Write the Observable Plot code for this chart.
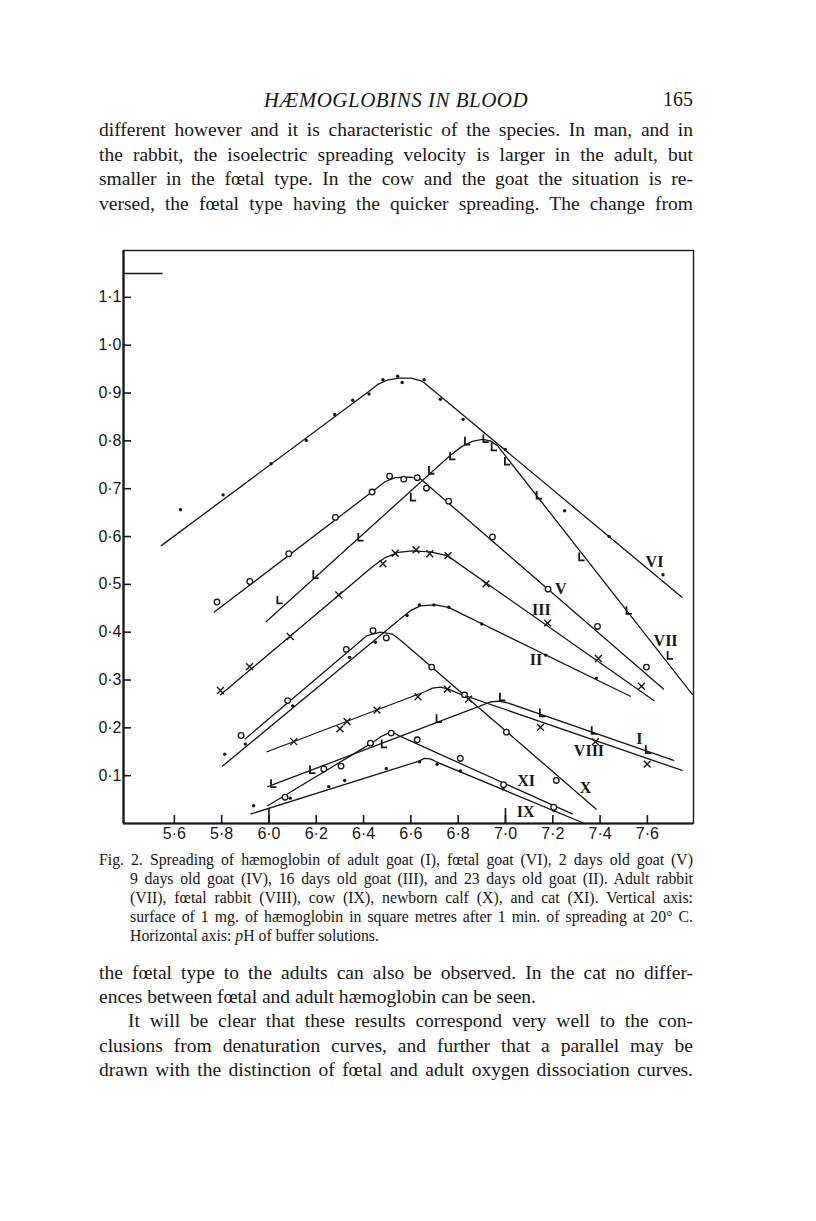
<!DOCTYPE html>
<html><head><meta charset="utf-8">
<script src="https://cdn.jsdelivr.net/npm/d3@7"></script>
<script src="https://cdn.jsdelivr.net/npm/@observablehq/plot@0.6"></script>
<style>
html,body{margin:0;padding:0;background:#fff;}
body{width:816px;height:1221px;position:relative;overflow:hidden;font-family:"Liberation Serif","Times New Roman",serif;color:#161616;}
.ln{position:absolute;white-space:normal;}
.j{text-align:justify;text-align-last:justify;}
.b{font-size:19.5px;line-height:24px;height:24px;left:99px;width:594px;}
.c{font-size:15.8px;line-height:19px;height:19px;left:99px;width:594px;}
.ci{left:130px;width:563px;}
#chart{position:absolute;left:0;top:240px;}
</style></head>
<body>
<div class="ln" style="top:88px;left:0;width:792px;text-align:center;font-size:21px;font-style:italic;letter-spacing:0.5px;">HÆMOGLOBINS IN BLOOD</div>
<div class="ln" style="top:88px;left:600px;width:93px;text-align:right;font-size:20px;">165</div>

<div class="ln b j" style="top:118px;">different however and it is characteristic of the species. In man, and in</div>
<div class="ln b j" style="top:143px;">the rabbit, the isoelectric spreading velocity is larger in the adult, but</div>
<div class="ln b j" style="top:167px;">smaller in the fœtal type. In the cow and the goat the situation is re-</div>
<div class="ln b j" style="top:192px;">versed, the fœtal type having the quicker spreading. The change from</div>

<div id="chart"></div>

<div class="ln c j" style="top:850px;">Fig. 2. Spreading of hæmoglobin of adult goat (I), fœtal goat (VI), 2 days old goat (V)</div>
<div class="ln c ci j" style="top:869px;">9 days old goat (IV), 16 days old goat (III), and 23 days old goat (II). Adult rabbit</div>
<div class="ln c ci j" style="top:888px;">(VII), fœtal rabbit (VIII), cow (IX), newborn calf (X), and cat (XI). Vertical axis:</div>
<div class="ln c ci j" style="top:907px;">surface of 1 mg. of hæmoglobin in square metres after 1 min. of spreading at 20° C.</div>
<div class="ln c ci" style="top:926px;">Horizontal axis: <i>p</i>H of buffer solutions.</div>

<div class="ln b j" style="top:961px;">the fœtal type to the adults can also be observed. In the cat no differ-</div>
<div class="ln b" style="top:985px;">ences between fœtal and adult hæmoglobin can be seen.</div>
<div class="ln b j" style="top:1009px;left:128px;width:565px;">It will be clear that these results correspond very well to the con-</div>
<div class="ln b j" style="top:1034px;">clusions from denaturation curves, and further that a parallel may be</div>
<div class="ln b j" style="top:1058px;">drawn with the distinction of fœtal and adult oxygen dissociation curves.</div>

<script>
// ---- axes ----
const xDomain = [5.385, 7.795];
const yDomain = [0, 1.198];
const xTicks = [5.6, 5.8, 6.0, 6.2, 6.4, 6.6, 6.8, 7.0, 7.2, 7.4, 7.6];
const xTickLabels = ["5·6","5·8","6·0","6·2","6·4","6·6","6·8","7·0","7·2","7·4","7·6"];
const xLongTicks = [6.0, 7.0];
const yTicks = [0.1, 0.2, 0.3, 0.4, 0.5, 0.6, 0.7, 0.8, 0.9, 1.0, 1.1];
const yTickLabels = ["0·1","0·2","0·3","0·4","0·5","0·6","0·7","0·8","0·9","1·0","1·1"];
const stub = [{y: 1.15, x1: 5.385, x2: 5.553}];

// ---- fitted curves (pH, surface) ----
const lineVI   = [[5.545,0.581],[6.422,0.903],[6.46,0.918],[6.50,0.927],[6.55,0.931],[6.60,0.931],[6.64,0.926],[6.655,0.922],[7.746,0.473]];
const lineVII  = [[5.988,0.422],[6.767,0.770],[6.818,0.789],[6.860,0.799],[6.902,0.803],[6.936,0.800],[6.966,0.790],[7.79,0.27]];
const lineV    = [[5.769,0.442],[6.443,0.696],[6.492,0.715],[6.534,0.723],[6.598,0.724],[6.640,0.721],[7.668,0.281]];
const lineIII  = [[5.795,0.269],[6.443,0.539],[6.492,0.556],[6.547,0.567],[6.606,0.570],[6.682,0.568],[6.754,0.560],[7.627,0.257]];
const lineII   = [[5.804,0.120],[6.556,0.428],[6.598,0.445],[6.640,0.455],[6.704,0.457],[6.759,0.452],[7.528,0.266]];
const lineX    = [[5.900,0.177],[6.415,0.393],[6.471,0.400],[6.522,0.396],[6.564,0.380],[7.384,0.030]];
const lineVIII = [[5.992,0.150],[6.661,0.276],[6.691,0.283],[6.725,0.285],[6.759,0.281],[6.801,0.272],[7.747,0.111]];
const lineI    = [[5.995,0.077],[6.894,0.246],[6.936,0.254],[6.970,0.256],[7.004,0.253],[7.711,0.132]];
const lineXI   = [[5.995,0.037],[6.437,0.169],[6.471,0.181],[6.505,0.189],[6.530,0.189],[6.556,0.182],[7.282,0.020]];
const lineIX   = [[5.924,0.020],[6.632,0.130],[6.657,0.136],[6.682,0.135],[6.712,0.128],[7.334,0.000]];

// ---- observed points ----
const ptsVI   = [[5.626,0.656],[5.806,0.687],[6.009,0.752],[6.158,0.801],[6.278,0.855],[6.354,0.885],[6.423,0.898],[6.482,0.928],[6.544,0.935],[6.563,0.922],[6.656,0.928],[6.725,0.887],[6.821,0.845],[7.0,0.782],[7.25,0.654],[7.438,0.60],[7.666,0.52]];
const ptsVII  = [[6.044,0.467],[6.196,0.52],[6.386,0.598],[6.608,0.682],[6.685,0.738],[6.774,0.768],[6.837,0.799],[6.915,0.804],[6.95,0.787],[7.006,0.757],[7.14,0.686],[7.32,0.557],[7.52,0.445],[7.694,0.351]];
const ptsV    = [[5.78,0.463],[5.919,0.506],[6.084,0.564],[6.281,0.64],[6.436,0.693],[6.51,0.726],[6.57,0.72],[6.627,0.723],[6.666,0.701],[6.76,0.674],[6.945,0.599],[7.18,0.49],[7.389,0.412],[7.596,0.327]];
const ptsIII  = [[5.795,0.278],[5.918,0.328],[6.09,0.391],[6.295,0.478],[6.482,0.543],[6.534,0.565],[6.622,0.572],[6.68,0.564],[6.757,0.560],[6.918,0.501],[7.178,0.419],[7.393,0.345],[7.575,0.287]];
const ptsII   = [[5.813,0.145],[5.9,0.166],[6.1,0.246],[6.341,0.347],[6.45,0.379],[6.584,0.435],[6.636,0.457],[6.697,0.457],[6.76,0.452],[6.90,0.417],[7.171,0.352],[7.384,0.304]];
const ptsX    = [[5.882,0.184],[6.079,0.257],[6.327,0.364],[6.44,0.403],[6.496,0.388],[6.688,0.327],[6.827,0.269],[7.004,0.191],[7.215,0.09]];
const ptsVIII = [[6.105,0.171],[6.30,0.198],[6.33,0.213],[6.457,0.237],[6.63,0.265],[6.754,0.281],[6.844,0.26],[7.148,0.201],[7.38,0.171],[7.599,0.124]];
const ptsI    = [[6.017,0.083],[6.182,0.112],[6.485,0.166],[6.717,0.219],[6.985,0.264],[7.154,0.231],[7.373,0.194],[7.602,0.154]];
const ptsXI   = [[6.068,0.055],[6.232,0.114],[6.305,0.12],[6.429,0.168],[6.517,0.189],[6.627,0.175],[6.809,0.136],[6.992,0.081],[7.204,0.034]];
const ptsIX   = [[5.935,0.037],[6.09,0.053],[6.253,0.077],[6.32,0.09],[6.496,0.115],[6.637,0.129],[6.711,0.124],[6.809,0.11],[6.99,0.072],[7.204,0.027]];

// ---- curve labels ----
const labelNames = ["VI","V","III","VII","II","I","VIII","XI","X","IX"];
const labelX     = [7.63, 7.234, 7.152, 7.677, 7.129, 7.566, 7.353, 7.087, 7.339, 7.085];
const labelY     = [0.548, 0.4906, 0.447, 0.382, 0.343, 0.177, 0.151, 0.0895, 0.0755, 0.0247];

// ---- build tables ----
const curves = [
  {id:"VI", line:lineVI, pts:ptsVI, marker:"dot"},
  {id:"VII", line:lineVII, pts:ptsVII, marker:"L"},
  {id:"V", line:lineV, pts:ptsV, marker:"circle"},
  {id:"III", line:lineIII, pts:ptsIII, marker:"x"},
  {id:"II", line:lineII, pts:ptsII, marker:"dot"},
  {id:"X", line:lineX, pts:ptsX, marker:"circle"},
  {id:"VIII", line:lineVIII, pts:ptsVIII, marker:"x"},
  {id:"I", line:lineI, pts:ptsI, marker:"L"},
  {id:"XI", line:lineXI, pts:ptsXI, marker:"circle"},
  {id:"IX", line:lineIX, pts:ptsIX, marker:"dot"}
];
const lineRows = curves.flatMap(c => c.line.map(([x,y]) => ({id:c.id, x, y})));
const ptRows = curves.flatMap(c => c.pts.map(([x,y]) => ({id:c.id, marker:c.marker, x, y})));
const labels = labelNames.map((t,i) => ({text:t, x:labelX[i], y:labelY[i]}));
const ink = "#161616";

// L-shaped marker symbol
const symbolL = {
  draw(ctx, size) {
    const r = Math.sqrt(size / Math.PI);
    ctx.moveTo(-r * 0.55, -r * 1.25);
    ctx.lineTo(-r * 0.55, r * 0.9);
    ctx.lineTo(r * 0.95, r * 0.9);
  }
};

const chart = Plot.plot({
  width: 816, height: 630,
  marginLeft: 123, marginRight: 123, marginTop: 10, marginBottom: 47,
  x: {domain: xDomain, label: null},
  y: {domain: yDomain, label: null},
  style: {fontFamily: "'Liberation Sans', Arial, sans-serif", fontSize: "16px", color: ink, background: "transparent", overflow: "visible"},
  marks: [
    Plot.frame({stroke: ink, strokeWidth: 1.4}),
    Plot.ruleX([xDomain[0]], {stroke: ink, strokeWidth: 2.2}),
    Plot.ruleY([yDomain[0]], {stroke: ink, strokeWidth: 2.2}),
    Plot.ruleY(stub, {y: "y", x1: "x1", x2: "x2", stroke: ink, strokeWidth: 1.6}),
    Plot.axisX({ticks: xTicks, tickSize: -8, text: null, label: null, stroke: ink, strokeWidth: 1.6}),
    Plot.axisX({ticks: xLongTicks, tickSize: -15, text: null, label: null, stroke: ink, strokeWidth: 1.6}),
    Plot.axisX({ticks: xTicks, tickSize: 0, tickPadding: 4, fontSize: 16, fill: ink, label: null,
      tickFormat: d => xTickLabels[xTicks.indexOf(d)]}),
    Plot.axisY({ticks: yTicks, tickSize: -8, text: null, label: null, stroke: ink, strokeWidth: 1.6}),
    Plot.axisY({ticks: yTicks, tickSize: 0, tickPadding: 2, fontSize: 16, fill: ink, label: null,
      tickFormat: d => yTickLabels[yTicks.indexOf(d)]}),
    Plot.line(lineRows, {x: "x", y: "y", z: "id", stroke: ink, strokeWidth: 1.3}),
    Plot.dot(ptRows.filter(d => d.marker === "dot"), {x: "x", y: "y", r: 1.7, fill: ink}),
    Plot.dot(ptRows.filter(d => d.marker === "circle"), {x: "x", y: "y", r: 2.8, stroke: ink, strokeWidth: 1.3, fill: "white"}),
    Plot.dot(ptRows.filter(d => d.marker === "x"), {x: "x", y: "y", symbol: "times", r: 3.2, stroke: ink, strokeWidth: 1.4}),
    Plot.dot(ptRows.filter(d => d.marker === "L"), {x: "x", y: "y", symbol: symbolL, r: 3.6, fill: "none", stroke: ink, strokeWidth: 1.8}),
    Plot.text(labels, {x: "x", y: "y", text: "text", fontFamily: "'Liberation Serif', serif", fontSize: 16, fontWeight: "bold", fill: ink})
  ]
});
document.getElementById("chart").appendChild(chart);
</script>
</body></html>
